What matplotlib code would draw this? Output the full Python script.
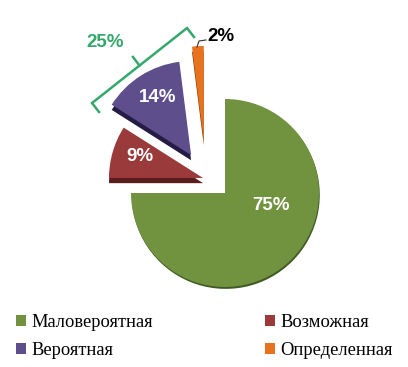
import matplotlib.pyplot as plt
from matplotlib.patches import Patch

# --- Data ---
categories = ["Маловероятная", "Возможная", "Вероятная", "Определенная"]
shares = [75, 9, 14, 2]
labels = ["75%", "9%", "14%", "2%"]
group_label = "25%"
colors = ["#71923f", "#9a3a3a", "#5e4e8c", "#e8731f"]
dark = ["#3f5a22", "#5a1c1c", "#241c45", "#8a3e0a"]

plt.rcParams["font.family"] = ["Liberation Sans", "DejaVu Sans"]

fig = plt.figure(figsize=(4.08, 3.67), dpi=100)
ax = fig.add_axes([0, 0, 1, 1])

fr = [s / 100 for s in shares]

# --- Main slice (with a thin shadow edge) ---
ax.pie(fr[:1], startangle=90, counterclock=False, normalize=False,
       colors=dark[:1], center=(0.008, -0.02))
main = ax.pie(fr[:1], startangle=90, counterclock=False, normalize=False,
              colors=colors[:1])[0]

# --- Pulled-out slices (3D thickness below) ---
group_center = (-0.2, 0.15)
explode = [0.035, 0.3, 0.415]
ax.pie(fr[1:], startangle=-180, counterclock=False, normalize=False,
       colors=dark[1:], explode=explode,
       center=(group_center[0], group_center[1] - 0.055))
small = ax.pie(fr[1:], startangle=-180, counterclock=False, normalize=False,
               colors=colors[1:], explode=explode, center=group_center)[0]

# --- Labels ---
txt = dict(color="white", fontsize=13.5, fontweight="bold", ha="center", va="center")
ax.text(0.489, -0.128, labels[0], **txt)
ax.text(-0.904, 0.383, labels[1], **txt)
ax.text(-0.713, 1.011, labels[2], **txt)
ax.text(-0.043, 1.670, labels[3], color="black", fontsize=13.5,
        fontweight="bold", ha="center", va="center")
ax.plot([-0.298, -0.277, -0.202], [1.553, 1.617, 1.628], color="#333333", lw=0.8)

# --- Bracket around the 25% group ---
green = "#35a86c"
ax.plot([-1.340, -1.415, -0.404, -0.330], [0.862, 0.957, 1.755, 1.660],
        color=green, lw=1.8, solid_joinstyle="miter")
ax.plot([-0.910, -0.979], [1.356, 1.447], color=green, lw=1.8)
ax.text(-1.277, 1.596, group_label, color=green, fontsize=13.5,
        fontweight="bold", ha="center", va="center")

ax.set_xlim(-225 / 94, 183 / 94)
ax.set_ylim(-174 / 94, 193 / 94)
ax.axis("off")

# --- Legend (column order: left col, then right col) ---
order = [0, 2, 1, 3]
handles = [Patch(facecolor=colors[i]) for i in order]
fig.legend(handles, [categories[i] for i in order], ncol=2, frameon=False,
           loc="upper left", bbox_to_anchor=(0.04, 0.144),
           prop={"family": "Liberation Serif", "size": 13.3},
           handlelength=0.5, handleheight=0.5, handletextpad=0.3,
           columnspacing=6.1, labelspacing=0.6, borderpad=0,
           borderaxespad=0)

fig.savefig("out.png", dpi=100)
